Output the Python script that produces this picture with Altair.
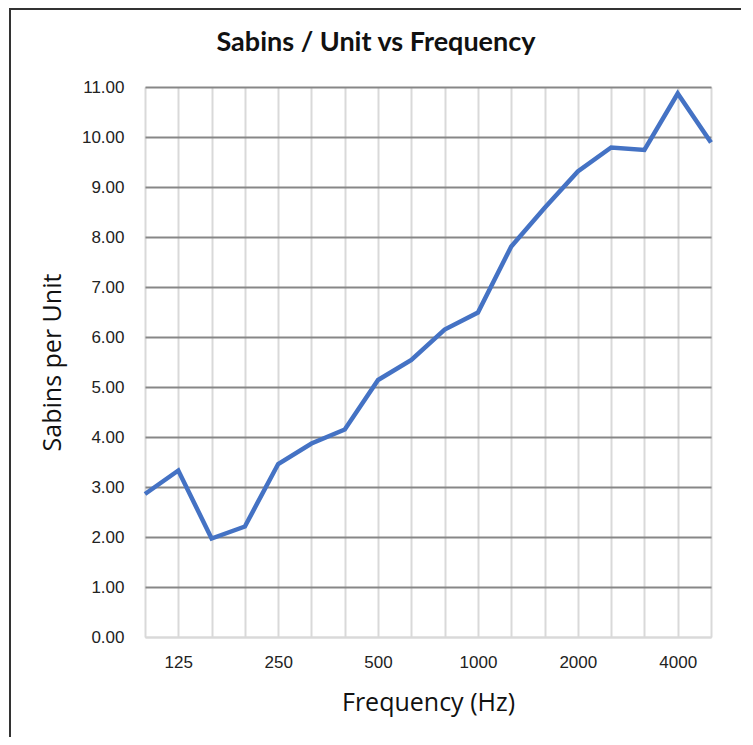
import altair as alt
import pandas as pd

freqs = ["100", "125", "160", "200", "250", "315", "400", "500", "630", "800",
         "1000", "1250", "1600", "2000", "2500", "3150", "4000", "5000"]
sabins = [2.86, 3.33, 1.97, 2.21, 3.46, 3.87, 4.15, 5.14, 5.54, 6.15,
          6.49, 7.81, 8.58, 9.31, 9.79, 9.74, 10.87, 9.89]
shown_labels = ["125", "250", "500", "1000", "2000", "4000"]

tick_text = [f if f in shown_labels else "" for f in freqs]

df = pd.DataFrame({"idx": list(range(len(freqs))), "freq": freqs, "sabins": sabins})

label_expr = "[" + ",".join(f"'{t}'" for t in tick_text) + "][datum.value]"

line = alt.Chart(df).mark_line(color="#4472C4", strokeWidth=4.5, strokeJoin="miter").encode(
    x=alt.X("idx:Q",
            scale=alt.Scale(domain=[0, len(freqs) - 1], nice=False, zero=False),
            axis=alt.Axis(values=list(range(len(freqs))), labelExpr=label_expr,
                          title="Frequency (Hz)", grid=True, gridColor="#d9d9d9",
                          gridWidth=2, ticks=False, domainColor="#d9d9d9",
                          domainWidth=2, labelPadding=17, labelFontSize=17,
                          labelFont="Liberation Sans", labelColor="#222222",
                          titleFont="Open Sans", titleFontSize=25, titleFontWeight="normal",
                          titleColor="#111111", titlePadding=20)),
    y=alt.Y("sabins:Q",
            scale=alt.Scale(domain=[0, 11], nice=False),
            axis=alt.Axis(values=list(range(12)), format=".2f",
                          title="Sabins per Unit", grid=True,
                          gridColor={"condition": {"test": "datum.value == 0", "value": "#d9d9d9"},
                                     "value": "#878787"},
                          gridWidth=2, ticks=False, domain=False, labelPadding=21,
                          labelFontSize=17, labelFont="Liberation Sans", labelColor="#222222",
                          titleFont="Open Sans", titleFontSize=25, titleFontWeight="normal",
                          titleColor="#111111", titlePadding=16)),
)

frame = alt.Chart(pd.DataFrame({"a": [0]})).mark_rect(
    fill=None, stroke="#333333", strokeWidth=2
).encode(
    x=alt.value(-135), x2=alt.value(900),
    y=alt.value(-78), y2=alt.value(900),
)

chart = alt.layer(line, frame).properties(
    width=566, height=550,
    title=alt.TitleParams("Sabins / Unit vs Frequency", font="Lato", fontSize=27,
                          fontWeight="bold", color="#111111", anchor="middle",
                          frame="group", dx=-52, offset=-70, baseline="alphabetic"),
    autosize=alt.AutoSizeParams(type="none"),
    padding={"left": 137, "top": 79, "right": 30, "bottom": 100},
).configure_view(stroke=None).configure(background="white")

chart.save("out.html", embed_options={"renderer": "svg", "actions": False})
